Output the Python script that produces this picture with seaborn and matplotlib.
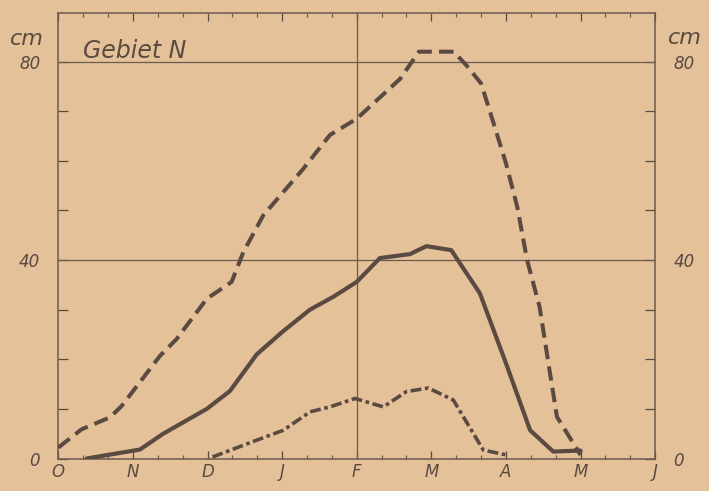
"""
Schneehöhe im Gebiet N (Okt - Jun, Dekaden)
"""

import matplotlib
matplotlib.use("Agg")
import matplotlib.pyplot as plt
import seaborn as sns
import pandas as pd

# x in Dekaden ab 1. Oktober, y in cm
monate = ['O', 'N', 'D', 'J', 'F', 'M', 'A', 'M', 'J']

max_x = [0, 0.94, 2.08, 2.55, 4.09, 4.76, 5.97, 6.97, 7.44, 8.24, 9.85,
         10.92, 12, 13.74, 14.5, 15.9, 16.4, 17.0, 17.5, 18.0, 18.45,
         18.85, 19.35, 19.77, 20.05, 21]
max_y = [2.2, 5.9, 8.3, 10.6, 20.7, 24.1, 32.2, 35.6, 41.6, 49, 58.4,
         65.2, 68.5, 76.5, 82, 82, 79.3, 75.6, 67.6, 59.5, 50.8, 40,
         30.6, 17.2, 8.4, 0.7]

mittel_x = [1.14, 3.28, 4.22, 5.97, 6.9, 7.98, 9.05, 10.12, 11.06, 12,
            12.93, 14.14, 14.8, 15.8, 16.95, 18, 18.97, 19.9, 21]
mittel_y = [0, 1.8, 5, 10, 13.6, 21, 25.7, 30, 32.6, 35.6, 40.4, 41.2,
            42.8, 42, 33.3, 19.2, 5.7, 1.4, 1.6]

min_x = [6.2, 7.98, 9.05, 10.12, 10.92, 11.93, 13.07, 14, 14.88, 15.88,
         17.09, 18.03]
min_y = [0.3, 3.7, 5.7, 9.4, 10.4, 12.1, 10.4, 13.5, 14.2, 11.8, 1.7,
         0.7]

papier = '#e4c199'
tinte = '#5a4a41'
rahmen = '#6c5b4e'

sns.set_style('ticks', {'axes.facecolor': papier, 'figure.facecolor': papier,
                        'axes.edgecolor': rahmen})
plt.rcParams['font.family'] = ['DejaVu Sans']
plt.rcParams['font.style'] = 'italic'

fig, ax = plt.subplots(figsize=(7.09, 4.91), dpi=100)
fig.subplots_adjust(left=58.3 / 709, right=655.2 / 709,
                    bottom=32.5 / 491, top=478 / 491)

df_max = pd.DataFrame({'x': max_x, 'y': max_y})
df_mit = pd.DataFrame({'x': mittel_x, 'y': mittel_y})
df_min = pd.DataFrame({'x': min_x, 'y': min_y})

# Gitter
ax.axhline(40, color=rahmen, lw=0.9, zorder=1)
ax.axhline(80, color=rahmen, lw=0.9, zorder=1)
ax.axvline(12, color=rahmen, lw=0.9, zorder=1)

sns.lineplot(data=df_max, x='x', y='y', ax=ax, color=tinte, lw=2.9,
             linestyle=(0, (3.6, 1.8)), zorder=3)
sns.lineplot(data=df_mit, x='x', y='y', ax=ax, color=tinte, lw=3.0,
             solid_joinstyle='round', zorder=3)
sns.lineplot(data=df_min, x='x', y='y', ax=ax, color=tinte, lw=2.6,
             linestyle=(0, (3.0, 1.0, 1.0, 1.0)), zorder=3)

ax.set_xlim(0, 24)
ax.set_ylim(0, 89.8)
ax.set_xlabel('')
ax.set_ylabel('')

# Achsen
ax.set_xticks(range(0, 25, 3))
ax.set_xticklabels(monate)
ax.set_xticks(range(0, 25), minor=True)
ax.set_yticks(range(0, 90, 10))
ax.set_yticklabels(['0' if v == 0 else str(v) if v in (40, 80) else ''
                    for v in range(0, 90, 10)])
ax.tick_params(axis='x', which='major', direction='in', length=6, width=0.9,
               top=True, labelsize=12, pad=3, colors=tinte)
ax.tick_params(axis='x', which='minor', direction='in', length=3, width=0.9,
               top=True, color=rahmen)
ax.tick_params(axis='y', direction='in', length=7, width=0.9, right=True,
               labelright=True, labelsize=12, colors=tinte)
ax.tick_params(axis='y', which='major', pad=13)
for lab in ax.get_yticklabels(which='both'):
    lab.set_fontstyle('italic')
for s in ax.spines.values():
    s.set_linewidth(1.1)
    s.set_color(rahmen)

ax.text(1.0, 80.8, 'Gebiet N', fontsize=17, color=tinte, style='italic',
        va='baseline', ha='left')
ax.text(-1.25, 84.6, 'cm', fontsize=16, color=tinte, style='italic',
        ha='center', va='center', clip_on=False)
ax.text(25.2, 84.8, 'cm', fontsize=16, color=tinte, style='italic',
        ha='center', va='center', clip_on=False)

plt.savefig('out.png', dpi=100, facecolor=papier)
